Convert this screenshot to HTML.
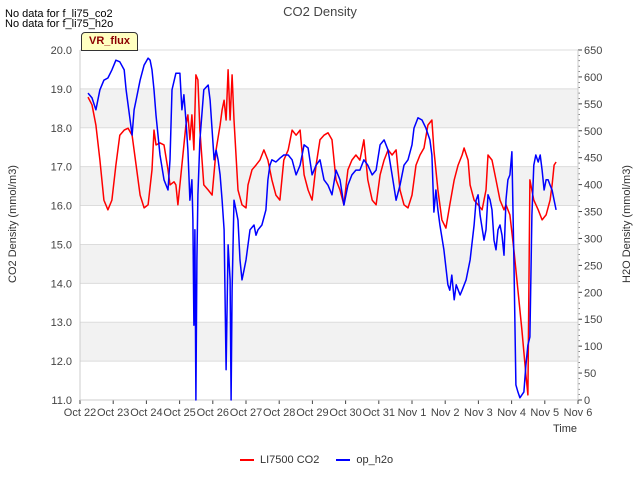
<!DOCTYPE html>
<html><head><meta charset="utf-8"><style>
body{margin:0;background:#fff;font-family:"Liberation Sans",sans-serif}
svg text{font-family:"Liberation Sans",sans-serif}
</style></head><body>
<svg id="chart" width="640" height="480" xmlns="http://www.w3.org/2000/svg"></svg>
<script>
const xTickLabels=["Oct 22","Oct 23","Oct 24","Oct 25","Oct 26","Oct 27","Oct 28","Oct 29","Oct 30","Oct 31","Nov 1","Nov 2","Nov 3","Nov 4","Nov 5","Nov 6"];
const leftTicks=[11,12,13,14,15,16,17,18,19,20];
const rightTicks=[0,50,100,150,200,250,300,350,400,450,500,550,600,650];
const co2Days=[0.24,0.36,0.48,0.60,0.72,0.84,0.96,1.08,1.20,1.33,1.45,1.57,1.69,1.81,1.93,2.05,2.17,2.23,2.29,2.41,2.53,2.65,2.71,2.83,2.89,2.95,3.07,3.19,3.25,3.31,3.37,3.43,3.49,3.55,3.61,3.73,3.86,3.98,4.10,4.22,4.28,4.34,4.40,4.46,4.52,4.58,4.64,4.76,4.88,5.00,5.06,5.18,5.30,5.42,5.54,5.66,5.78,5.90,6.02,6.14,6.27,6.39,6.51,6.63,6.75,6.87,6.99,7.11,7.23,7.35,7.47,7.59,7.71,7.83,7.95,8.07,8.19,8.31,8.43,8.55,8.67,8.80,8.92,9.04,9.16,9.28,9.40,9.52,9.64,9.76,9.88,10.00,10.12,10.24,10.36,10.48,10.60,10.66,10.78,10.90,11.02,11.14,11.27,11.39,11.51,11.57,11.69,11.75,11.87,11.99,12.11,12.23,12.29,12.41,12.53,12.65,12.77,12.83,12.95,13.07,13.19,13.31,13.43,13.49,13.55,13.67,13.80,13.92,14.04,14.16,14.22,14.28,14.34];
const co2Vals=[18.79,18.59,18.07,17.17,16.14,15.89,16.14,17.04,17.81,17.94,17.99,17.81,17.04,16.27,15.94,16.02,16.92,17.94,17.56,17.61,17.56,16.92,16.53,16.61,16.53,16.02,17.04,18.07,18.33,17.69,18.33,17.43,19.36,19.23,17.94,16.53,16.40,16.27,17.43,18.07,18.46,18.71,18.20,19.49,18.20,19.36,18.20,16.40,16.02,15.94,16.53,16.92,17.04,17.17,17.43,17.17,16.66,16.27,16.14,17.17,17.43,17.94,17.81,17.94,16.79,16.40,16.14,17.04,17.69,17.81,17.87,17.69,16.66,16.40,16.02,16.92,17.17,17.30,17.17,17.69,16.66,16.14,16.02,16.79,17.17,17.43,17.30,17.43,16.40,16.02,15.94,16.27,17.04,17.30,17.48,18.07,18.20,17.43,16.40,15.63,15.42,16.02,16.66,17.04,17.30,17.48,17.17,16.53,16.14,16.02,15.89,16.40,17.30,17.17,16.66,16.14,15.89,16.02,15.76,14.86,13.83,12.80,11.65,11.13,16.66,16.14,15.89,15.63,15.76,16.14,16.53,17.04,17.12];
const h2oDays=[0.24,0.36,0.48,0.60,0.72,0.84,0.96,1.08,1.20,1.33,1.39,1.51,1.57,1.63,1.69,1.81,1.93,2.05,2.11,2.17,2.23,2.29,2.41,2.53,2.65,2.71,2.77,2.89,3.01,3.07,3.13,3.19,3.25,3.31,3.37,3.40,3.43,3.46,3.49,3.52,3.55,3.61,3.73,3.86,3.92,4.04,4.10,4.16,4.22,4.28,4.34,4.40,4.46,4.52,4.55,4.58,4.64,4.70,4.76,4.82,4.88,4.94,5.00,5.12,5.24,5.30,5.36,5.48,5.60,5.66,5.72,5.78,5.90,6.02,6.14,6.27,6.39,6.51,6.63,6.75,6.87,6.99,7.11,7.23,7.35,7.47,7.59,7.71,7.83,7.95,8.07,8.19,8.31,8.43,8.55,8.67,8.80,8.92,9.04,9.16,9.28,9.40,9.52,9.64,9.76,9.88,10.00,10.06,10.18,10.30,10.42,10.54,10.60,10.66,10.72,10.78,10.84,10.96,11.08,11.14,11.20,11.27,11.33,11.45,11.51,11.63,11.75,11.87,11.93,11.99,12.05,12.17,12.23,12.29,12.35,12.41,12.47,12.53,12.59,12.65,12.71,12.77,12.83,12.89,12.95,13.01,13.07,13.13,13.19,13.25,13.37,13.43,13.49,13.55,13.61,13.67,13.73,13.80,13.86,13.92,13.98,14.04,14.10,14.16,14.22,14.28,14.34];
const h2oVals=[570,561,539,576,594,598,613,631,628,613,576,520,492,539,557,594,622,635,631,613,576,529,455,409,390,446,576,607,607,539,567,520,464,371,409,334,139,316,0,260,381,483,576,585,557,446,464,446,418,371,316,56,288,223,0,204,371,353,334,260,223,241,260,316,325,306,316,325,353,409,436,446,442,449,455,455,446,418,436,474,468,418,436,446,409,399,381,427,409,362,399,418,427,427,446,436,418,427,474,483,464,418,371,399,436,446,474,505,524,520,505,483,455,349,390,353,325,279,214,204,232,186,214,195,204,223,260,325,371,381,343,297,316,381,372,353,297,279,316,325,306,269,372,409,418,461,260,28,15,4,15,65,102,117,343,436,455,442,455,427,390,409,409,399,390,371,353,349];

const svg=document.getElementById('chart');
const NS='http://www.w3.org/2000/svg';
const L=80,R=578,T=50,B=400;
const xs=d=>L+d*(R-L)/15;
const yL=v=>B-(v-11)*(B-T)/9;
const yR=v=>B-v*(B-T)/650;
function mk(tag,attrs,parent){const e=document.createElementNS(NS,tag);for(const k in attrs)e.setAttribute(k,attrs[k]);(parent||svg).appendChild(e);return e;}
function txt(s,attrs,parent){const e=mk('text',attrs,parent);e.textContent=s;return e;}

// bands
for(let i=0;i<9;i++){
  if(i%2===1){const r=mk('rect',{x:L,y:yL(leftTicks[i+1]),width:R-L,height:yL(leftTicks[i])-yL(leftTicks[i+1]),fill:'#f2f2f2'});
  
  }
}
leftTicks.forEach(v=>{
  const g=mk('line',{x1:L,x2:R,y1:yL(v),y2:yL(v),stroke:'#dcdcdc','stroke-width':1});
  
  
  const t=txt(v.toFixed(1),{x:L-8,y:yL(v)+4,'text-anchor':'end','font-size':11,fill:'#444'});
  
  
});
rightTicks.forEach(v=>{
  mk('line',{x1:R,x2:R+4,y1:yR(v),y2:yR(v),stroke:'#444'});
  const t=txt(String(v),{x:R+6,y:yR(v)+4,'font-size':11,fill:'#444'});
  
  
});
for(let v=0;v<=650;v+=10){mk('line',{x1:R,x2:R+2,y1:yR(v),y2:yR(v),stroke:'#444','stroke-width':0.6});}
xTickLabels.forEach((s,i)=>{
  mk('line',{x1:xs(i),x2:xs(i),y1:B,y2:B+4,stroke:'#444'});
  const t=txt(s,{x:xs(i),y:B+16,'text-anchor':'middle','font-size':11,fill:'#444'});
  
  
});
mk('line',{x1:L,x2:L,y1:T,y2:B,stroke:'#ccc'});
mk('line',{x1:R,x2:R,y1:T,y2:B,stroke:'#ccc'});
mk('line',{x1:L,x2:R,y1:B,y2:B,stroke:'#ccc'});

function series(days,vals,yf,color,name){
  const p=mk('polyline',{points:days.map((d,i)=>xs(d).toFixed(1)+','+yf(vals[i]).toFixed(1)).join(' '),fill:'none',stroke:color,'stroke-width':1.5,'stroke-linejoin':'round'});
  
  
}
series(co2Days,co2Vals,yL,'#ff0000','li7500-co2-line');
series(h2oDays,h2oVals,yR,'#0000ff','op-h2o-line');
</script>
<div style="position:absolute;left:0;top:0;width:640px;height:480px;pointer-events:none">
<div style="position:absolute;left:0;width:640px;top:4px;text-align:center;font-size:13px;color:#444">CO2 Density</div>
<div style="position:absolute;left:5px;top:8px;font-size:11px;color:#000">No data for f_li75_co2</div>
<div style="position:absolute;left:5px;top:18px;font-size:11px;color:#000">No data for f_li75_h2o</div>
<div style="position:absolute;left:81px;top:32px;width:55px;height:17px;background:#ffffc0;border:1px solid #333;border-radius:4px 4px 0 0;font-size:11px;font-weight:bold;color:#8b0000;text-align:center;line-height:17px">VR_flux</div>
<div style="position:absolute;left:-52px;top:218px;width:130px;text-align:center;transform:rotate(-90deg);font-size:11px;color:#333">CO2 Density (mmol/m3)</div>
<div style="position:absolute;left:562px;top:218px;width:130px;text-align:center;transform:rotate(-90deg);font-size:11px;color:#333">H2O Density (mmol/m3)</div>
<div style="position:absolute;left:553px;top:423px;font-size:11px;color:#333">Time</div>
<div style="position:absolute;left:240px;top:454px;font-size:11px;color:#333;white-space:nowrap">
<span><span style="display:inline-block;width:14px;border-top:2px solid #f00;vertical-align:middle;margin-right:6px"></span>LI7500 CO2</span>
<span style="margin-left:14px"><span style="display:inline-block;width:14px;border-top:2px solid #00f;vertical-align:middle;margin-right:6px"></span>op_h2o</span>
</div>
</div>
</body></html>
